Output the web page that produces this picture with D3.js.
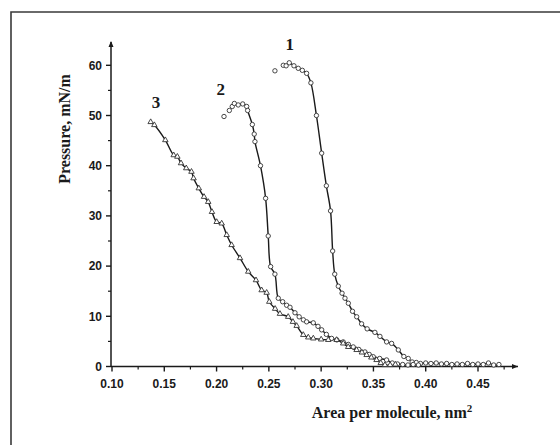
<!DOCTYPE html>
<html>
<head>
<meta charset="utf-8">
<script src="https://cdn.jsdelivr.net/npm/d3@7/dist/d3.min.js"></script>
<style>
  html, body { margin: 0; padding: 0; background: #fff; }
  svg { display: block; }
</style>
</head>
<body>
<div id="chart"></div>
<script>
// isotherm 1 (area nm2, pressure mN/m)
const curve1 = [
  [0.2558, 58.9], [0.2638, 60.0], [0.2665, 59.9], [0.2695, 60.5], [0.2740, 59.9], [0.2781, 59.4],
  [0.2820, 59.0], [0.2861, 58.4], [0.2902, 56.5], [0.2955, 50.0], [0.3005, 42.5], [0.3050, 36.0],
  [0.3090, 31.0], [0.3110, 23.0], [0.3130, 18.4], [0.3164, 16.0], [0.3200, 14.6], [0.3228, 13.6],
  [0.3260, 12.6], [0.3300, 11.0], [0.3340, 9.9], [0.3387, 8.5], [0.3440, 7.5], [0.3514, 6.8],
  [0.3562, 6.0], [0.3626, 4.9], [0.3674, 4.6], [0.3738, 3.3], [0.3791, 2.0], [0.3833, 1.6],
  [0.3870, 0.9], [0.3910, 0.8], [0.3950, 0.6], [0.4000, 0.7], [0.4050, 0.6], [0.4100, 0.7],
  [0.4150, 0.5], [0.4200, 0.6], [0.4250, 0.4], [0.4300, 0.5], [0.4350, 0.4], [0.4400, 0.6],
  [0.4450, 0.4], [0.4500, 0.5], [0.4550, 0.4], [0.4600, 0.7], [0.4650, 0.3], [0.4700, 0.4]
];

const curve2 = [
  [0.2071, 49.8], [0.2122, 51.0], [0.2150, 51.8], [0.2170, 52.4], [0.2207, 52.1], [0.2250, 52.3],
  [0.2288, 51.8], [0.2297, 51.0], [0.2342, 48.2], [0.2360, 46.3], [0.2367, 44.8], [0.2420, 40.0],
  [0.2469, 33.5], [0.2494, 26.0], [0.2517, 19.9], [0.2558, 18.4], [0.2590, 13.6], [0.2632, 12.9],
  [0.2670, 12.2], [0.2702, 11.8], [0.2750, 10.7], [0.2790, 9.9], [0.2830, 9.3], [0.2861, 8.9],
  [0.2925, 8.7], [0.2970, 8.0], [0.3005, 7.3], [0.3050, 6.4], [0.3100, 5.6], [0.3150, 5.3],
  [0.3211, 4.9], [0.3260, 4.4], [0.3307, 3.9], [0.3360, 3.4], [0.3419, 2.9], [0.3460, 2.4],
  [0.3498, 1.95], [0.3560, 1.6], [0.3626, 1.3], [0.3680, 0.7], [0.3730, 0.5], [0.3780, 0.4],
  [0.3830, 0.3], [0.3880, 0.4], [0.3930, 0.3]
];

const curve3 = [
  [0.1370, 48.7], [0.1405, 48.1], [0.1510, 45.1], [0.1590, 42.1], [0.1625, 41.8], [0.1660, 40.5],
  [0.1710, 39.5], [0.1760, 38.8], [0.1780, 37.5], [0.1830, 35.5], [0.1880, 33.8], [0.1920, 32.8],
  [0.1956, 30.8], [0.2001, 28.8], [0.2049, 28.5], [0.2097, 26.2], [0.2144, 24.2], [0.2224, 21.6],
  [0.2303, 18.9], [0.2377, 17.2], [0.2431, 15.2], [0.2479, 14.7], [0.2504, 12.9], [0.2560, 11.5],
  [0.2606, 10.5], [0.2685, 9.9], [0.2730, 8.9], [0.2766, 8.1], [0.2829, 6.3], [0.2877, 5.8],
  [0.2925, 5.6], [0.3000, 5.4], [0.3068, 5.3], [0.3148, 5.3], [0.3211, 4.6], [0.3259, 3.9],
  [0.3339, 3.3], [0.3390, 2.8], [0.3435, 2.3], [0.3480, 1.8], [0.3530, 1.3], [0.3570, 0.7],
  [0.3610, 0.3], [0.3660, 0.3], [0.3710, 0.4]
];

const curveNames = ["1", "2", "3"];
const nameAnchors = [[0.2700, 64.3], [0.2040, 55.2], [0.1420, 52.6]];  // data coords of the numbers
const xTicks = [0.10, 0.15, 0.20, 0.25, 0.30, 0.35, 0.40, 0.45];
const yTicks = [0, 10, 20, 30, 40, 50, 60];

const width = 560, height = 445;
const svg = d3.select("#chart").append("svg").attr("width", width).attr("height", height);

// frame of the scanned figure (only left and top edges show)
svg.append("path")
  .attr("d", `M11,${height} L11,12 L${width},12`)
  .attr("fill", "none").attr("stroke", "#3a3a3a").attr("stroke-width", 1.6);

const x = d3.scaleLinear().domain([0.10, 0.45]).range([112, 478]);
const y = d3.scaleLinear().domain([0, 60]).range([366.5, 65.3]);

const ink = "#1a1a1a";

// axes
const xAxisG = svg.append("g").attr("transform", `translate(0,${y(0)})`);
xAxisG.append("line").attr("x1", x(0.10) - 1).attr("x2", 518).attr("stroke", ink).attr("stroke-width", 1.5);
xAxisG.append("path").attr("d", "M518,0 l-6,-2.5 l0,5 z").attr("fill", ink);
xAxisG.selectAll(".minor").data(d3.range(0.125, 0.48, 0.05)).join("line")
  .attr("x1", d => x(d)).attr("x2", d => x(d)).attr("y1", 0).attr("y2", 3)
  .attr("stroke", ink).attr("stroke-width", 1.2);
xAxisG.selectAll(".major").data(xTicks).join("line")
  .attr("x1", d => x(d)).attr("x2", d => x(d)).attr("y1", 0).attr("y2", 5)
  .attr("stroke", ink).attr("stroke-width", 1.4);
xAxisG.selectAll("text").data(xTicks).join("text")
  .attr("x", d => x(d)).attr("y", 21)
  .attr("text-anchor", "middle")
  .attr("font-family", "Liberation Sans, Arial, sans-serif").attr("font-weight", "bold")
  .attr("font-size", 12).attr("fill", ink)
  .text(d => d3.format(".2f")(d));

const yAxisG = svg.append("g").attr("transform", `translate(${x(0.10) - 1},0)`);
yAxisG.append("line").attr("y1", y(0)).attr("y2", 42).attr("stroke", ink).attr("stroke-width", 1.5);
yAxisG.append("path").attr("d", "M0,41 l-2.5,6 l5,0 z").attr("fill", ink);
yAxisG.selectAll(".minor").data(d3.range(5, 60, 10)).join("line")
  .attr("y1", d => y(d)).attr("y2", d => y(d)).attr("x1", 0).attr("x2", -3)
  .attr("stroke", ink).attr("stroke-width", 1.2);
yAxisG.selectAll(".major").data(yTicks).join("line")
  .attr("y1", d => y(d)).attr("y2", d => y(d)).attr("x1", 0).attr("x2", -5)
  .attr("stroke", ink).attr("stroke-width", 1.4);
yAxisG.selectAll("text").data(yTicks).join("text")
  .attr("x", -9).attr("y", d => y(d) + 4.3)
  .attr("text-anchor", "end")
  .attr("font-family", "Liberation Sans, Arial, sans-serif").attr("font-weight", "bold")
  .attr("font-size", 12).attr("fill", ink)
  .text(d => d);

// axis titles
svg.append("text")
  .attr("transform", "translate(70,129) rotate(-90)")
  .attr("text-anchor", "middle")
  .attr("font-family", "Liberation Serif, Times New Roman, serif")
  .attr("font-weight", "bold").attr("font-size", 16).attr("fill", ink)
  .text("Pressure, mN/m");

const xt = svg.append("text")
  .attr("x", 392).attr("y", 418)
  .attr("text-anchor", "middle")
  .attr("font-family", "Liberation Serif, Times New Roman, serif")
  .attr("font-weight", "bold").attr("font-size", 16).attr("fill", ink)
  .text("Area per molecule, nm");
xt.append("tspan").attr("dy", -6).attr("font-size", 11).text("2");

// curves
const line = d3.line().x(d => x(d[0])).y(d => y(d[1])).curve(d3.curveCatmullRom.alpha(0.5));
const lineFrom = [1, 3, 0];
const curves = [curve1, curve2, curve3];

curves.forEach((pts, i) => {
  svg.append("path")
    .datum(pts.slice(lineFrom[i]))
    .attr("d", line)
    .attr("fill", "none").attr("stroke", ink).attr("stroke-width", 1.4);
});

[curve1, curve2].forEach(pts => {
  svg.append("g").selectAll("circle").data(pts).join("circle")
    .attr("cx", d => x(d[0])).attr("cy", d => y(d[1])).attr("r", 2.2)
    .attr("fill", "#fff").attr("stroke", "#333").attr("stroke-width", 0.9);
});

const tri = d3.symbol().type(d3.symbolTriangle).size(13);
svg.append("g").selectAll("path").data(curve3).join("path")
  .attr("transform", d => `translate(${x(d[0])},${y(d[1])})`)
  .attr("d", tri)
  .attr("fill", "#fff").attr("stroke", "#333").attr("stroke-width", 0.9);

// curve numbers
svg.append("g").selectAll("text").data(curveNames).join("text")
  .attr("x", (d, i) => x(nameAnchors[i][0]))
  .attr("y", (d, i) => y(nameAnchors[i][1]) + 6)
  .attr("text-anchor", "middle")
  .attr("font-family", "Liberation Serif, Times New Roman, serif")
  .attr("font-weight", "bold").attr("font-size", 17).attr("fill", ink)
  .text(d => d);
</script>
</body>
</html>
